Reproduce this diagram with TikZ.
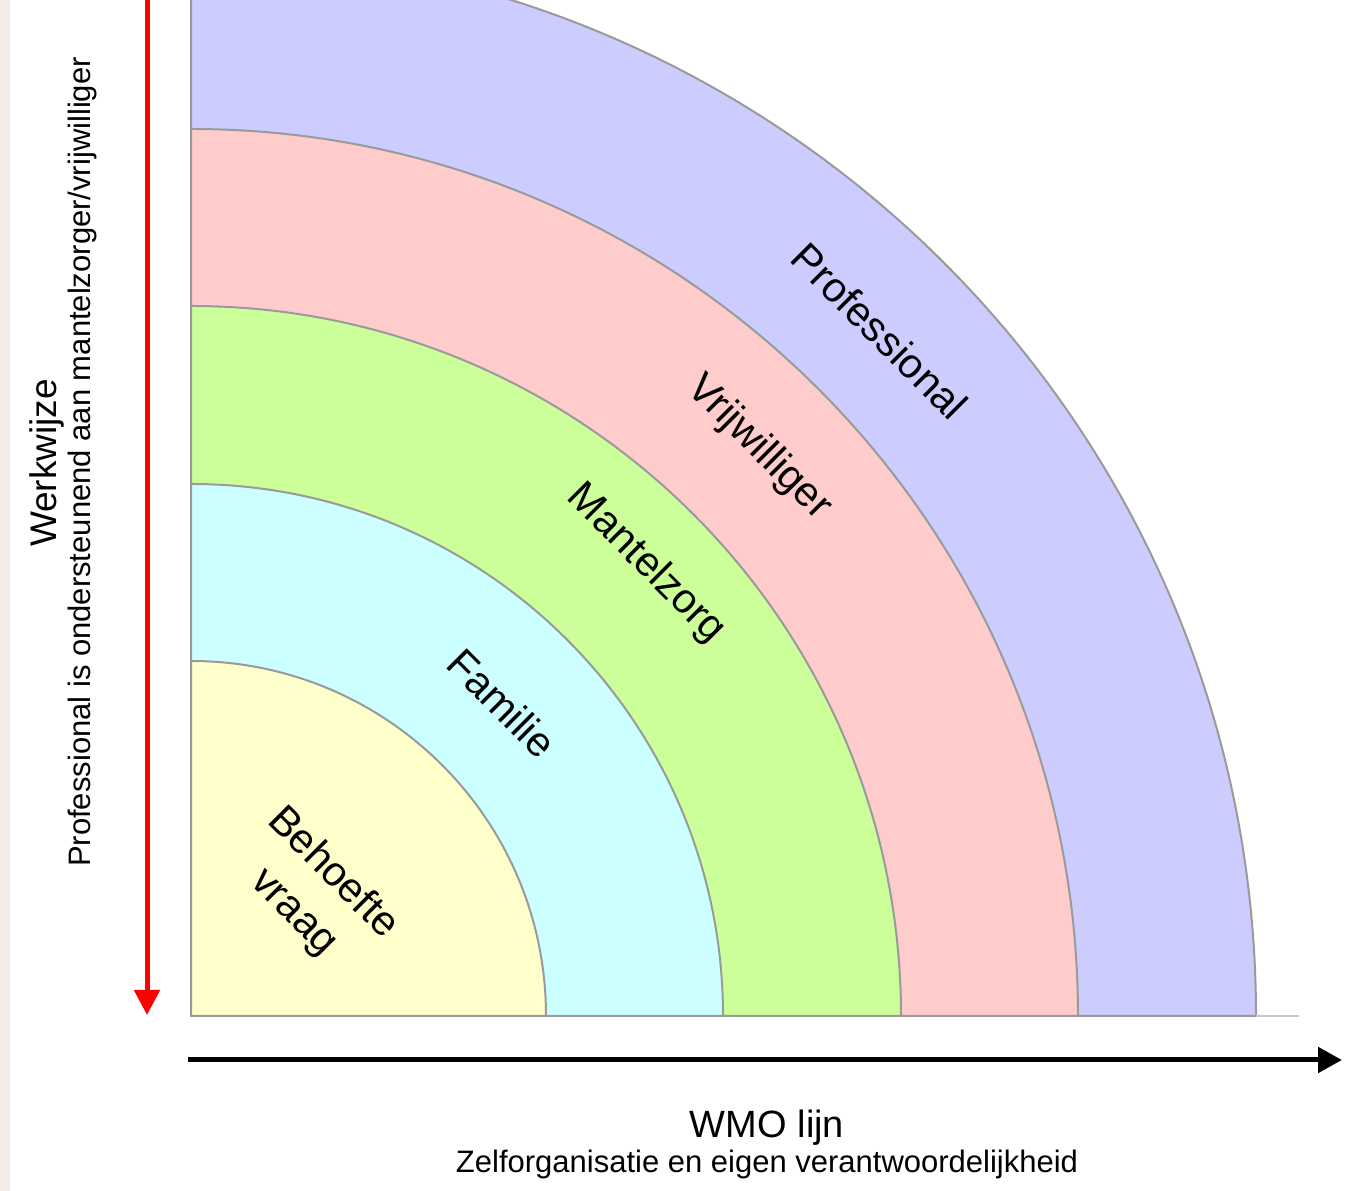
\documentclass[tikz,border=0pt]{standalone}
\usepackage{fontspec}
\setmainfont{Liberation Sans}
\usetikzlibrary{arrows.meta}
\definecolor{cYel}{HTML}{FFFFCC}
\definecolor{cCya}{HTML}{CCFFFF}
\definecolor{cGrn}{HTML}{CCFF99}
\definecolor{cPnk}{HTML}{FFCCCC}
\definecolor{cBlu}{HTML}{CCCCFF}
\definecolor{cEdge}{HTML}{9A9A9A}
\definecolor{cBeige}{HTML}{F2EEE6}
\tikzset{
  sector/.style={draw=cEdge, line width=2pt},
  ringlabel/.style={rotate=-45, font=\fontsize{41.5}{55}\selectfont, align=center, inner sep=0pt},
  axislabel/.style={anchor=base, inner sep=0pt},
}
\begin{document}
\begin{tikzpicture}[x=1pt,y=1pt]
\useasboundingbox (0,0) rectangle (1355,1191);
\begin{scope}
\clip (0,0) rectangle (1355,1191);
\fill[white] (0,0) rectangle (1355,1191);
\fill[cBeige] (0,0) rectangle (10,1191);
\coordinate (O) at (191,175);
\foreach \r/\c in {1065/cBlu, 887/cPnk, 710/cGrn, 532/cCya, 355/cYel}{
  \filldraw[sector, fill=\c] (O) -- ++(\r,0) arc[start angle=0, end angle=90, radius=\r] -- cycle;
}
\coordinate (bEnd) at (1299,175);
\coordinate (bBlue) at (1256,175);
\draw[draw=cEdge!55, line width=2pt] (bBlue) -- (bEnd);
\draw[cEdge, line width=2pt] (O) -- (bBlue);

% ring labels
\node[ringlabel] (lProf) at (880,860) {Professional};
\node[ringlabel] (lVrij) at (759,743) {Vrijwilliger};
\node[ringlabel] (lMant) at (646,627) {Mantelzorg};
\node[ringlabel] (lFam) at (502,488) {Familie};
\node[ringlabel] (lBeh) at (313,298) {Behoefte\\vraag};

% arrows
\coordinate (rTop) at (147,1195);
\coordinate (rEnd) at (147,176);
\draw[red, line width=5pt, -{Triangle[length=25pt,width=25pt]}] (rTop) -- (rEnd);
\coordinate (hStart) at (188,131);
\coordinate (hEnd) at (1342,131);
\draw[black, line width=5pt, -{Triangle[length=24pt,width=25pt]}] (hStart) -- (hEnd);
\end{scope}

% axis titles
\node[axislabel, font=\fontsize{38}{44}\selectfont] (tWmo) at (767,53) {WMO lijn};
\node[axislabel, font=\fontsize{31}{36}\selectfont] (tZelf) at (767,18) {Zelforganisatie en eigen verantwoordelijkheid};
\node[axislabel, rotate=90, font=\fontsize{37}{44}\selectfont] (tWerk) at (57,728) {Werkwijze};
\node[axislabel, rotate=90, font=\fontsize{31}{36}\selectfont] (tProf) at (90,729) {Professional is ondersteunend aan mantelzorger/vrijwilliger};
\end{tikzpicture}
\end{document}
